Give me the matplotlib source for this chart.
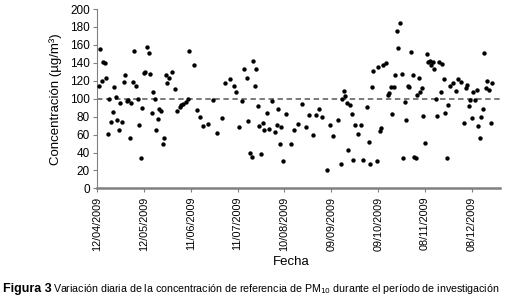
import numpy as np
import matplotlib
matplotlib.use("Agg")
import matplotlib.pyplot as plt
import matplotlib.dates as mdates

plt.rcParams['font.family'] = ['Liberation Sans', 'DejaVu Sans']

# days since 12/04/2009 and daily PM10 concentration (ug/m3)
days = [1, 2, 3, 4, 5, 6, 7, 8, 9, 10, 11, 12, 13, 14, 15, 16, 17, 18, 19, 20,
        21, 22, 23, 24, 25, 26, 27, 28, 29, 30, 31, 32, 33, 34, 35, 36, 37, 38, 39, 40,
        41, 42, 43, 44, 45, 46, 48, 50, 51, 53, 54, 55, 57, 58, 59, 62, 64, 66, 68, 71,
        74, 77, 80, 82, 85, 88, 89, 91, 93, 94, 96, 97, 98, 99, 100, 101, 102, 103, 104, 105,
        106, 107, 109, 110, 112, 114, 115, 116, 117, 118, 119, 121, 124, 126, 129, 131, 134, 136, 138, 140,
        142, 144, 147, 149, 151, 154, 156, 157, 158, 159, 160, 161, 162, 163, 164, 165, 167, 169, 170, 173,
        174, 175, 176, 177, 179, 180, 181, 182, 183, 185, 186, 187, 188, 189, 190, 191, 192, 193, 194, 195,
        196, 197, 198, 199, 200, 201, 202, 203, 204, 205, 206, 207, 208, 209, 210, 211, 212, 213, 214, 215,
        216, 217, 218, 219, 220, 221, 222, 223, 224, 225, 226, 228, 230, 231, 233, 235, 236, 237, 238, 239,
        240, 241, 242, 243, 244, 245, 246, 247, 248, 249, 250, 251, 252, 253]
pm10 = [114, 155, 120, 141, 140, 123, 61, 100, 74, 85, 113, 102, 76, 65, 95, 74, 119, 126, 97, 98,
        56, 95, 119, 153, 114, 100, 71, 34, 90, 129, 130, 158, 151, 127, 84, 108, 100, 65, 77, 89,
        86, 49, 56, 126, 117, 123, 130, 111, 86, 91, 93, 94, 96, 100, 153, 138, 87, 80, 70, 72,
        98, 62, 78, 117, 122, 114, 108, 68, 97, 133, 123, 75, 40, 35, 142, 114, 133, 92, 70, 38,
        73, 65, 84, 66, 97, 63, 71, 88, 50, 68, 30, 83, 49, 65, 72, 94, 69, 82, 60, 82,
        88, 80, 21, 71, 58, 76, 27, 100, 109, 103, 95, 43, 93, 83, 32, 71, 61, 71, 32, 91,
        52, 27, 113, 131, 31, 135, 64, 67, 138, 140, 104, 106, 113, 83, 113, 126, 175, 157, 184, 128,
        34, 96, 76, 114, 113, 152, 126, 35, 34, 104, 123, 107, 112, 81, 51, 150, 141, 142, 138, 141,
        133, 100, 81, 141, 107, 139, 122, 84, 34, 93, 114, 118, 109, 122, 119, 73, 112, 115, 92, 98,
        79, 107, 98, 110, 70, 56, 80, 89, 151, 112, 120, 110, 73, 118]

start = np.datetime64('2009-04-12')
dates = start + np.array(days).astype('timedelta64[D]')
tick_dates = start + np.arange(0, 241, 30).astype('timedelta64[D]')

fig = plt.figure(figsize=(5.2, 3.0), dpi=100)
ax = fig.add_axes([0.1865, 0.372, 0.775, 0.598])

ax.scatter(dates, pm10, s=10, color='black', zorder=3, linewidths=0)
ax.axhline(100, color='#707070', linestyle=(0, (3, 2)), linewidth=1.3, zorder=2)

ax.set_xlim(start, start + np.timedelta64(258, 'D'))
ax.set_ylim(0, 200)
ax.set_yticks(np.arange(0, 201, 20))
ax.set_xticks(tick_dates)
ax.xaxis.set_major_formatter(mdates.DateFormatter('%d/%m/%Y'))
ax.tick_params(axis='x', labelsize=7.8, rotation=90, length=3, color='#808080', pad=3)
ax.tick_params(axis='y', labelsize=8.5, length=3, color='#808080', pad=2)

for s in ['top', 'right']:
    ax.spines[s].set_visible(False)
ax.spines['left'].set_color('#808080')
ax.spines['left'].set_linewidth(0.8)
ax.spines['bottom'].set_color('#808080')
ax.spines['bottom'].set_linewidth(1.8)

ax.set_ylabel('Concentración (µg/m³)', fontsize=9.5, labelpad=6)
fig.text(0.561, 0.128, 'Fecha', fontsize=9.5, ha='center', va='center')

fig.text(0.006, 0.027, 'Figura 3', fontsize=9, fontweight='bold', va='baseline')
cap = fig.text(0.101, 0.027,
               'Variación diaria de la concentración de referencia de PM$_{10}$ durante el período de investigación',
               fontsize=8, va='baseline')

# shrink the caption so it ends where the reference one does
r = fig.canvas.get_renderer()
w = cap.get_window_extent(r).width
cap.set_fontsize(8 * 448 / w)

fig.savefig('out.png', dpi=100, facecolor='white')
